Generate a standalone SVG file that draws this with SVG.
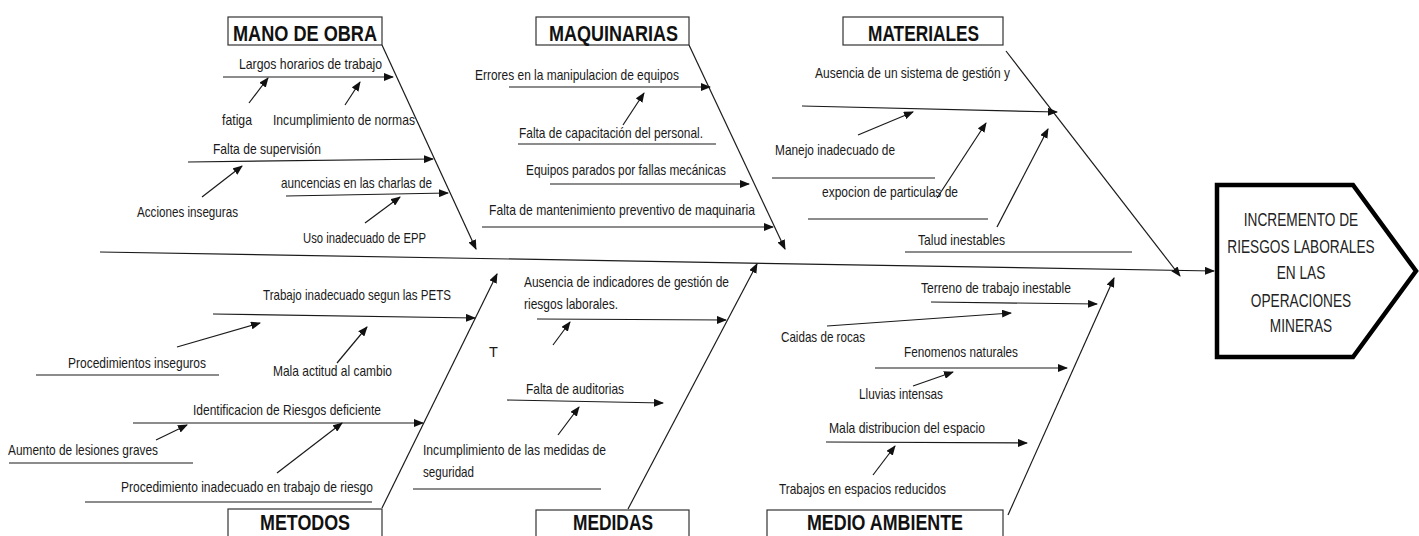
<svg xmlns="http://www.w3.org/2000/svg" width="1419" height="536" viewBox="0 0 1419 536">
<style>
.bg{fill:#fff}
.ln{stroke:#1a1a1a;stroke-width:1.2;fill:none}
.ar{stroke:#1a1a1a;stroke-width:1.2;fill:none;marker-end:url(#ah)}
.box{fill:#fff;stroke:#333;stroke-width:1.2}
.hd{font-family:"Liberation Sans",Arial,sans-serif;font-size:22px;font-weight:bold;fill:#111}
.t{font-family:"Liberation Sans",Arial,sans-serif;font-size:14.5px;fill:#1a1a1a}
.ef{font-family:"Liberation Sans",Arial,sans-serif;font-size:19px;fill:#222;text-anchor:middle}
</style>
<defs>
<marker id="ah" markerWidth="10" markerHeight="8" refX="9" refY="4" orient="auto" markerUnits="userSpaceOnUse"><path d="M0,0 L10,4 L0,8 z" fill="#111"/></marker>
</defs>
<rect class="bg" width="1419" height="536"/>

<g id="connectors">
<!-- spine -->
<path class="ar" d="M100,252 L1214,271"/>
<!-- category bones -->
<path class="ar" d="M382,45 L476,249"/>
<path class="ar" d="M689,45 L785,249"/>
<path class="ar" d="M1006,51 L1180,276"/>
<path class="ar" d="M382,508 L497,274"/>
<path class="ar" d="M628,509 L757,264"/>
<path class="ar" d="M1008,515 L1114,278"/>
<!-- mano de obra -->
<path class="ar" d="M223,77 L393,77"/>
<path class="ar" d="M249,103 L268,78"/>
<path class="ar" d="M345,105 L360,82"/>
<path class="ar" d="M188,162 L433,159"/>
<path class="ar" d="M202,197 L242,166"/>
<path class="ar" d="M286,196 L448,193"/>
<path class="ar" d="M365,223 L400,197"/>
<!-- maquinarias -->
<path class="ar" d="M509,87 L710,87"/>
<path class="ar" d="M623,125 L644,93"/>
<path class="ln" d="M518,144 L716,144"/>
<path class="ar" d="M550,184 L749,184"/>
<path class="ar" d="M482,227 L773,227"/>
<!-- materiales -->
<path class="ar" d="M802,106 L1057,112"/>
<path class="ar" d="M858,135 L913,112"/>
<path class="ln" d="M772,178 L935,178"/>
<path class="ar" d="M937,198 L986,123"/>
<path class="ln" d="M808,219 L988,219"/>
<path class="ar" d="M997,227 L1048,129"/>
<path class="ln" d="M905,252 L1132,252"/>
<!-- metodos -->
<path class="ar" d="M213,314 L475,318"/>
<path class="ar" d="M177,347 L260,323"/>
<path class="ln" d="M36,375 L219,375"/>
<path class="ar" d="M337,363 L367,327"/>
<path class="ar" d="M133,423 L423,423"/>
<path class="ar" d="M156,440 L187,425"/>
<path class="ln" d="M9,463 L193,463"/>
<path class="ar" d="M277,473 L342,423"/>
<path class="ln" d="M85,502 L372,502"/>
<!-- medidas -->
<path class="ar" d="M537,319 L726,320"/>
<path class="ar" d="M553,345 L570,322"/>
<path class="ar" d="M507,400 L663,403"/>
<path class="ar" d="M558,435 L579,407"/>
<path class="ln" d="M413,489 L601,489"/>
<!-- medio ambiente -->
<path class="ar" d="M931,302 L1097,304"/>
<path class="ar" d="M827,326 L1011,313"/>
<path class="ar" d="M875,368 L1067,368"/>
<path class="ar" d="M913,386 L953,372"/>
<path class="ar" d="M826,442 L1027,443"/>
<path class="ar" d="M873,475 L895,446"/>
</g>

<g id="cat-mano-de-obra">
<rect class="box" x="228" y="17" width="154" height="28"/>
<text class="hd" x="233" y="41" textLength="144" lengthAdjust="spacingAndGlyphs">MANO DE OBRA</text>
</g>
<g id="cat-maquinarias">
<rect class="box" x="536" y="17" width="153" height="28"/>
<text class="hd" x="549" y="41" textLength="129" lengthAdjust="spacingAndGlyphs">MAQUINARIAS</text>
</g>
<g id="cat-materiales">
<rect class="box" x="843" y="17" width="160" height="28"/>
<text class="hd" x="868" y="41" textLength="111" lengthAdjust="spacingAndGlyphs">MATERIALES</text>
</g>
<g id="cat-metodos">
<rect class="box" x="228" y="509" width="154" height="32"/>
<text class="hd" x="260" y="530" textLength="90" lengthAdjust="spacingAndGlyphs">METODOS</text>
</g>
<g id="cat-medidas">
<rect class="box" x="536" y="510" width="153" height="31"/>
<text class="hd" x="573" y="530" textLength="80" lengthAdjust="spacingAndGlyphs">MEDIDAS</text>
</g>
<g id="cat-medio-ambiente">
<rect class="box" x="767" y="510" width="236" height="31"/>
<text class="hd" x="807" y="530" textLength="156" lengthAdjust="spacingAndGlyphs">MEDIO AMBIENTE</text>
</g>

<g id="effect">
<path d="M1217,185 H1353 L1416,271 L1353,357 H1217 Z" fill="#fff" stroke="#000" stroke-width="4.5" stroke-linejoin="miter"/>
<g transform="translate(1301,0) scale(0.72,1)">
<text class="ef" x="0" y="226">INCREMENTO DE</text>
<text class="ef" x="0" y="253">RIESGOS LABORALES</text>
<text class="ef" x="0" y="279">EN LAS</text>
<text class="ef" x="0" y="307">OPERACIONES</text>
<text class="ef" x="0" y="332">MINERAS</text>
</g>
</g>

<g id="causes-mano-de-obra">
<text class="t" x="239" y="69" textLength="143" lengthAdjust="spacingAndGlyphs">Largos horarios de trabajo</text>
<text class="t" x="222" y="125" textLength="30" lengthAdjust="spacingAndGlyphs">fatiga</text>
<text class="t" x="273" y="125" textLength="142" lengthAdjust="spacingAndGlyphs">Incumplimiento de normas</text>
<text class="t" x="213" y="154" textLength="108" lengthAdjust="spacingAndGlyphs">Falta de supervisión</text>
<text class="t" x="137" y="217" textLength="101" lengthAdjust="spacingAndGlyphs">Acciones inseguras</text>
<text class="t" x="281" y="188" textLength="151" lengthAdjust="spacingAndGlyphs">auncencias en las charlas de</text>
<text class="t" x="303" y="243" textLength="123" lengthAdjust="spacingAndGlyphs">Uso inadecuado de EPP</text>
</g>
<g id="causes-maquinarias">
<text class="t" x="475" y="80" textLength="204" lengthAdjust="spacingAndGlyphs">Errores en la manipulacion de equipos</text>
<text class="t" x="519" y="138" textLength="184" lengthAdjust="spacingAndGlyphs">Falta de capacitación del personal.</text>
<text class="t" x="526" y="175" textLength="200" lengthAdjust="spacingAndGlyphs">Equipos parados por fallas mecánicas</text>
<text class="t" x="489" y="215" textLength="266" lengthAdjust="spacingAndGlyphs">Falta de mantenimiento preventivo de maquinaria</text>
</g>
<g id="causes-materiales">
<text class="t" x="815" y="78" textLength="195" lengthAdjust="spacingAndGlyphs">Ausencia de un sistema de gestión y</text>
<text class="t" x="775" y="155" textLength="120" lengthAdjust="spacingAndGlyphs">Manejo inadecuado de</text>
<text class="t" x="822" y="197" textLength="136" lengthAdjust="spacingAndGlyphs">expocion de particulas de</text>
<text class="t" x="918" y="245" textLength="87" lengthAdjust="spacingAndGlyphs">Talud inestables</text>
</g>
<g id="causes-metodos">
<text class="t" x="263" y="300" textLength="188" lengthAdjust="spacingAndGlyphs">Trabajo inadecuado segun las PETS</text>
<text class="t" x="68" y="368" textLength="138" lengthAdjust="spacingAndGlyphs">Procedimientos inseguros</text>
<text class="t" x="273" y="376" textLength="119" lengthAdjust="spacingAndGlyphs">Mala actitud al cambio</text>
<text class="t" x="193" y="415" textLength="188" lengthAdjust="spacingAndGlyphs">Identificacion de Riesgos deficiente</text>
<text class="t" x="8" y="455" textLength="150" lengthAdjust="spacingAndGlyphs">Aumento de lesiones graves</text>
<text class="t" x="121" y="492" textLength="252" lengthAdjust="spacingAndGlyphs">Procedimiento inadecuado en trabajo de riesgo</text>
</g>
<g id="causes-medidas">
<text class="t" x="524" y="287" textLength="205" lengthAdjust="spacingAndGlyphs">Ausencia de indicadores de gestión de</text>
<text class="t" x="524" y="309" textLength="94" lengthAdjust="spacingAndGlyphs">riesgos laborales.</text>
<text class="t" x="489" y="357">T</text>
<text class="t" x="526" y="394" textLength="98" lengthAdjust="spacingAndGlyphs">Falta de auditorias</text>
<text class="t" x="423" y="455" textLength="183" lengthAdjust="spacingAndGlyphs">Incumplimiento de las medidas de</text>
<text class="t" x="423" y="477" textLength="51" lengthAdjust="spacingAndGlyphs">seguridad</text>
</g>
<g id="causes-medio-ambiente">
<text class="t" x="921" y="293" textLength="150" lengthAdjust="spacingAndGlyphs">Terreno de trabajo inestable</text>
<text class="t" x="781" y="342" textLength="84" lengthAdjust="spacingAndGlyphs">Caidas de rocas</text>
<text class="t" x="904" y="357" textLength="114" lengthAdjust="spacingAndGlyphs">Fenomenos naturales</text>
<text class="t" x="859" y="399" textLength="84" lengthAdjust="spacingAndGlyphs">Lluvias intensas</text>
<text class="t" x="829" y="433" textLength="156" lengthAdjust="spacingAndGlyphs">Mala distribucion del espacio</text>
<text class="t" x="779" y="494" textLength="167" lengthAdjust="spacingAndGlyphs">Trabajos en espacios reducidos</text>
</g>
</svg>
